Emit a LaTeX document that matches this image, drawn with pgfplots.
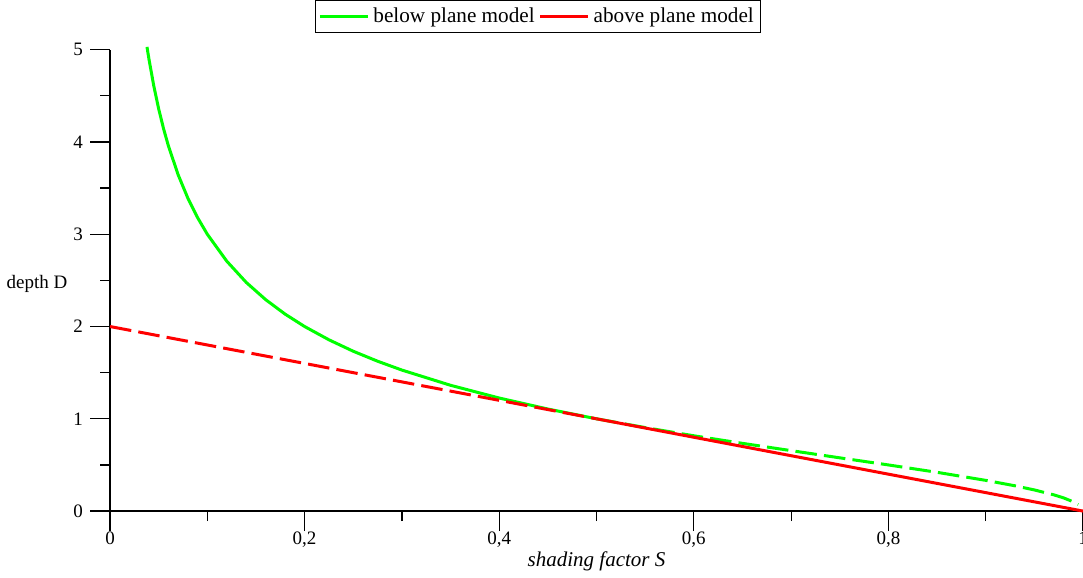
\documentclass[border=0pt]{standalone}
\usepackage{fontspec}
\setmainfont{Liberation Serif}
\usepackage{pgfplots}
\pgfplotsset{compat=1.18}

\begin{document}
\begin{tikzpicture}[trim axis right]
\begin{axis}[
  scale only axis,
  width=486.5pt,
  height=230.7pt,
  xmin=0, xmax=1,
  ymin=0, ymax=5,
  axis lines*=left,
  axis line style={line width=0.6pt},
  clip=false,
  xtick={0,0.2,0.4,0.6,0.8,1},
  minor xtick={0.1,0.3,0.5,0.7,0.9},
  ytick={0,1,2,3,4,5},
  minor ytick={0.5,1.5,2.5,3.5,4.5},
  tick align=outside,
  xtick align=outside,
  ytick align=outside,
  major tick length=10pt,
  minor tick length=5pt,
  tick style={black, line width=0.6pt},
  /pgf/number format/use comma,
  /pgf/number format/assume math mode=true,
  tick label style={font=\fontsize{9.5}{11}\selectfont},
  xticklabel style={yshift=3pt},
  xlabel={\textit{shading factor S}},
  xlabel style={font=\fontsize{10.5}{12}\selectfont, yshift=5pt},
  ylabel={depth D},
  ylabel style={font=\fontsize{9.5}{11}\selectfont, rotate=-90, at={(axis description cs:0,0.5)}, anchor=east, xshift=-17.8pt, yshift=-2pt},
  legend columns=2,
  legend style={at={(0.44,1.072)}, anchor=center, draw=black, line width=0.6pt,
    font=\fontsize{10.6}{13}\selectfont, inner sep=1.5pt,
    /tikz/every odd column/.append style={column sep=0pt}},
  legend image code/.code={\draw[#1] (0pt,0pt) -- (24pt,0pt);},
]
% below plane model, solid part
\addplot[color=green, line width=1.5pt] coordinates {
  (0.038,5.03) (0.04,4.899) (0.045,4.607) (0.05,4.359) (0.055,4.145)
  (0.06,3.958) (0.07,3.645) (0.08,3.391) (0.09,3.180) (0.1,3.0)
  (0.12,2.708) (0.14,2.478) (0.16,2.291) (0.18,2.134) (0.2,2.0)
  (0.225,1.856) (0.25,1.732) (0.275,1.624) (0.3,1.528) (0.35,1.363)
  (0.4,1.225) (0.45,1.106) (0.5,1.0)
};
\addlegendentry{below plane model}
% below plane model, dashed part
\addplot[color=green, line width=1.5pt, dash pattern=on 10.8pt off 3.6pt, forget plot] coordinates {
  (0.5,1.0) (0.55,0.905) (0.6,0.816) (0.65,0.734) (0.7,0.655) (0.75,0.577)
  (0.8,0.5) (0.85,0.420) (0.9,0.333) (0.93,0.274) (0.95,0.229)
  (0.97,0.176) (0.98,0.143) (0.99,0.1005) (0.995,0.071)
};
% above plane model, dashed part
\addplot[color=red, line width=1.5pt, dash pattern=on 10.8pt off 3.6pt, forget plot] coordinates {
  (0,2) (0.5,1)
};
% above plane model, solid part
\addplot[color=red, line width=1.5pt] coordinates {
  (0.5,1) (1,0)
};
\addlegendentry{above plane model}
\end{axis}
\end{tikzpicture}
\end{document}
